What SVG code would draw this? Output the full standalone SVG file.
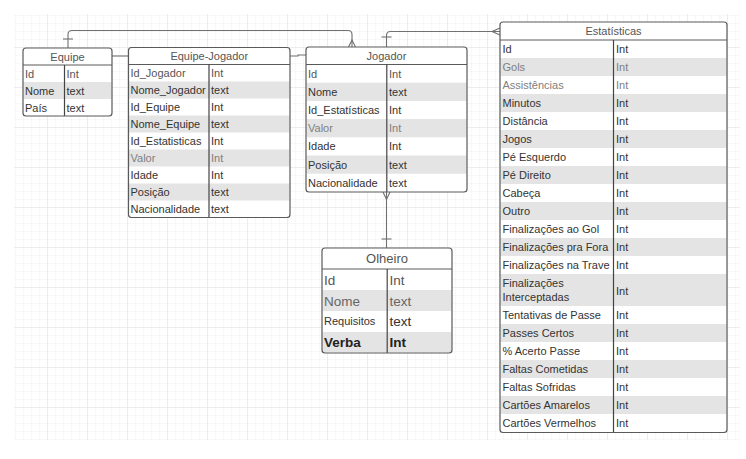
<svg xmlns="http://www.w3.org/2000/svg" width="746" height="459" viewBox="0 0 746 459">
<defs>
<pattern id="minor" x="8" y="8" width="8" height="8" patternUnits="userSpaceOnUse">
<path d="M8,0 V8 M0,8 H8" fill="none" stroke="#f0f0f0" stroke-width="1"/>
</pattern>
<pattern id="major" x="8" y="8" width="40" height="40" patternUnits="userSpaceOnUse">
<path d="M40,0 V40 M0,40 H40" fill="none" stroke="#e2e2e2" stroke-width="1"/>
</pattern>
</defs>
<style>
.box{fill:none;stroke:#5a5a5a;stroke-width:1.2}
.bg{fill:#ffffff}
.g{fill:#e4e4e4}
.div{stroke:#444;stroke-width:1.2}
.hl{stroke:#5a5a5a;stroke-width:1}
.t{font-family:"Liberation Sans",Arial,sans-serif;font-size:11px;fill:#333}
.l{fill:#808080}
.m{fill:#555}
.h{font-family:"Liberation Sans",Arial,sans-serif;font-size:11px;fill:#555;text-anchor:middle}
.big{font-size:13.5px}
.con{fill:none;stroke:#707070;stroke-width:1.1}
</style>
<rect width="746" height="459" fill="#fff"/>
<rect x="14" y="14" width="726" height="426" fill="url(#minor)"/>
<rect x="14" y="14" width="726" height="426" fill="url(#major)"/>

<g id="connectors">
<path class="con" d="M68,48 V34.5 Q68,30.5 72,30.5 H348 Q352,30.5 352,34.5 V47"/>
<path class="con" d="M63,39 H73"/>
<path class="con" d="M348.5,47 L352,40 L355.5,47"/>
<path class="con" d="M112,56 H128.5"/>
<path class="con" d="M290,56 H298 V55 H306"/>
<path class="con" d="M386.5,47 V35.5 Q386.5,31.5 390.5,31.5 H500"/>
<path class="con" d="M381.5,37 H391.5"/>
<path class="con" d="M500,28 L492,31.5 L500,35"/>
<path class="con" d="M386.5,192 V248"/>
<path class="con" d="M383,192 L386.5,199.5 L390,192"/>
<path class="con" d="M381.5,239 H391.5"/>
</g>

<g id="equipe">
<rect class="bg" x="23" y="48" width="89" height="68" rx="3"/>
<rect class="g" x="23.5" y="82" width="88" height="17"/>
<line class="hl" x1="23" y1="65" x2="112" y2="65"/>
<line class="div" x1="64.5" y1="65" x2="64.5" y2="116"/>
<rect class="box" x="23" y="48" width="89" height="68" rx="3"/>
<text class="h" x="67.5" y="60.5">Equipe</text>
<text class="t m" x="25" y="77.5">Id</text><text class="t m" x="66.5" y="77.5">Int</text>
<text class="t" x="25" y="94.5">Nome</text><text class="t" x="66.5" y="94.5">text</text>
<text class="t" x="25" y="111.5">País</text><text class="t" x="66.5" y="111.5">text</text>
</g>

<g id="equipe-jogador">
<rect class="bg" x="128.5" y="47.5" width="161.5" height="170" rx="3"/>
<rect class="g" x="129" y="81.5" width="160.5" height="17"/>
<rect class="g" x="129" y="115.5" width="160.5" height="17"/>
<rect class="g" x="129" y="149.5" width="160.5" height="17"/>
<rect class="g" x="129" y="183.5" width="160.5" height="17"/>
<line class="hl" x1="128.5" y1="64.5" x2="290" y2="64.5"/>
<line class="div" x1="209" y1="64.5" x2="209" y2="217.5"/>
<rect class="box" x="128.5" y="47.5" width="161.5" height="170" rx="3"/>
<text class="h" x="209.25" y="60">Equipe-Jogador</text>
<text class="t m" x="130.5" y="77">Id_Jogador</text><text class="t m" x="211" y="77">Int</text>
<text class="t" x="130.5" y="94">Nome_Jogador</text><text class="t" x="211" y="94">text</text>
<text class="t" x="130.5" y="111">Id_Equipe</text><text class="t" x="211" y="111">Int</text>
<text class="t" x="130.5" y="128">Nome_Equipe</text><text class="t" x="211" y="128">text</text>
<text class="t" x="130.5" y="145">Id_Estatisticas</text><text class="t" x="211" y="145">Int</text>
<text class="t l" x="130.5" y="162">Valor</text><text class="t l" x="211" y="162">Int</text>
<text class="t" x="130.5" y="179">Idade</text><text class="t" x="211" y="179">Int</text>
<text class="t" x="130.5" y="196">Posição</text><text class="t" x="211" y="196">text</text>
<text class="t" x="130.5" y="213">Nacionalidade</text><text class="t" x="211" y="213">text</text>
</g>

<g id="jogador">
<rect class="bg" x="306" y="47" width="161" height="145" rx="3"/>
<rect class="g" x="306.5" y="82.7" width="160" height="18.2"/>
<rect class="g" x="306.5" y="119.1" width="160" height="18.2"/>
<rect class="g" x="306.5" y="155.5" width="160" height="18.2"/>
<line class="hl" x1="306" y1="64.5" x2="467" y2="64.5"/>
<line class="div" x1="386.8" y1="64.5" x2="386.8" y2="192"/>
<rect class="box" x="306" y="47" width="161" height="145" rx="3"/>
<text class="h" x="386.5" y="59.5">Jogador</text>
<text class="t m" x="308" y="77.5">Id</text><text class="t m" x="389" y="77.5">Int</text>
<text class="t" x="308" y="95.7">Nome</text><text class="t" x="389" y="95.7">text</text>
<text class="t" x="308" y="113.9">Id_Estatísticas</text><text class="t" x="389" y="113.9">Int</text>
<text class="t l" x="308" y="132.1">Valor</text><text class="t l" x="389" y="132.1">Int</text>
<text class="t" x="308" y="150.3">Idade</text><text class="t" x="389" y="150.3">Int</text>
<text class="t" x="308" y="168.5">Posição</text><text class="t" x="389" y="168.5">text</text>
<text class="t" x="308" y="186.7">Nacionalidade</text><text class="t" x="389" y="186.7">text</text>
</g>

<g id="estatisticas">
<rect class="bg" x="500" y="22" width="227" height="410.5" rx="3"/>
<rect class="g" x="500.5" y="58" width="226" height="18"/>
<rect class="g" x="500.5" y="94" width="226" height="18"/>
<rect class="g" x="500.5" y="130" width="226" height="18"/>
<rect class="g" x="500.5" y="166" width="226" height="18"/>
<rect class="g" x="500.5" y="202" width="226" height="18"/>
<rect class="g" x="500.5" y="238" width="226" height="18"/>
<rect class="g" x="500.5" y="274" width="226" height="32"/>
<rect class="g" x="500.5" y="324" width="226" height="18"/>
<rect class="g" x="500.5" y="360" width="226" height="18"/>
<rect class="g" x="500.5" y="396" width="226" height="18"/>
<line class="hl" x1="500" y1="40" x2="727" y2="40"/>
<line class="div" x1="613.5" y1="40" x2="613.5" y2="432.5"/>
<rect class="box" x="500" y="22" width="227" height="410.5" rx="3"/>
<text class="h" x="613.5" y="35">Estatísticas</text>
<text class="t" x="502.5" y="53">Id</text><text class="t" x="616" y="53">Int</text>
<text class="t l" x="502.5" y="71">Gols</text><text class="t l" x="616" y="71">Int</text>
<text class="t l" x="502.5" y="89">Assistências</text><text class="t l" x="616" y="89">Int</text>
<text class="t" x="502.5" y="107">Minutos</text><text class="t" x="616" y="107">Int</text>
<text class="t" x="502.5" y="125">Distância</text><text class="t" x="616" y="125">Int</text>
<text class="t" x="502.5" y="143">Jogos</text><text class="t" x="616" y="143">Int</text>
<text class="t" x="502.5" y="161">Pé Esquerdo</text><text class="t" x="616" y="161">Int</text>
<text class="t" x="502.5" y="179">Pé Direito</text><text class="t" x="616" y="179">Int</text>
<text class="t" x="502.5" y="197">Cabeça</text><text class="t" x="616" y="197">Int</text>
<text class="t" x="502.5" y="215">Outro</text><text class="t" x="616" y="215">Int</text>
<text class="t" x="502.5" y="233">Finalizações ao Gol</text><text class="t" x="616" y="233">Int</text>
<text class="t" x="502.5" y="251">Finalizações pra Fora</text><text class="t" x="616" y="251">Int</text>
<text class="t" x="502.5" y="269">Finalizações na Trave</text><text class="t" x="616" y="269">Int</text>
<text class="t" x="502.5" y="287">Finalizações</text>
<text class="t" x="502.5" y="301">Interceptadas</text><text class="t" x="616" y="294.5">Int</text>
<text class="t" x="502.5" y="319">Tentativas de Passe</text><text class="t" x="616" y="319">Int</text>
<text class="t" x="502.5" y="337">Passes Certos</text><text class="t" x="616" y="337">Int</text>
<text class="t" x="502.5" y="355">% Acerto Passe</text><text class="t" x="616" y="355">Int</text>
<text class="t" x="502.5" y="373">Faltas Cometidas</text><text class="t" x="616" y="373">Int</text>
<text class="t" x="502.5" y="391">Faltas Sofridas</text><text class="t" x="616" y="391">Int</text>
<text class="t" x="502.5" y="409">Cartões Amarelos</text><text class="t" x="616" y="409">Int</text>
<text class="t" x="502.5" y="427">Cartões Vermelhos</text><text class="t" x="616" y="427">Int</text>
</g>

<g id="olheiro">
<rect class="bg" x="322" y="248" width="130" height="105" rx="3"/>
<rect class="g" x="322.5" y="290" width="129" height="21"/>
<rect class="g" x="322.5" y="332" width="129" height="20.5"/>
<line class="hl" x1="322" y1="269" x2="452" y2="269"/>
<line class="div" x1="387.2" y1="269" x2="387.2" y2="353"/>
<rect class="box" x="322" y="248" width="130" height="105" rx="3"/>
<text class="h" x="387" y="263" style="font-size:13px">Olheiro</text>
<text class="t big m" x="324" y="284.5">Id</text><text class="t big m" x="389.5" y="284.5">Int</text>
<text class="t big" x="324" y="305.5" style="fill:#666">Nome</text><text class="t big" x="389.5" y="305.5" style="fill:#666">text</text>
<text class="t" x="324" y="325">Requisitos</text><text class="t big" x="389.5" y="326">text</text>
<text class="t big" x="324" y="347" style="fill:#222;font-weight:bold">Verba</text><text class="t big" x="389.5" y="347" style="fill:#222;font-weight:bold">Int</text>
</g>
</svg>
